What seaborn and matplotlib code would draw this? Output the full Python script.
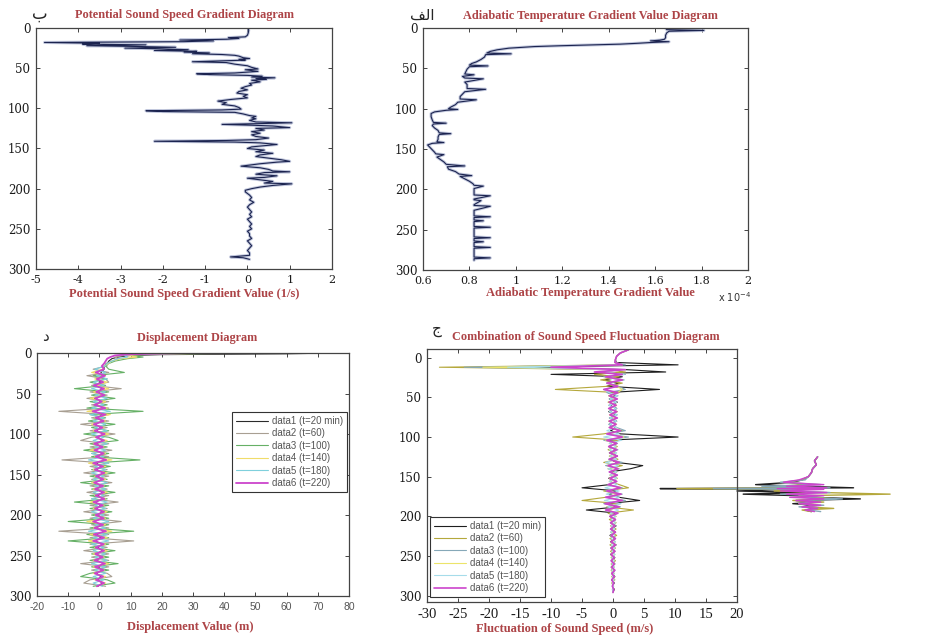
import matplotlib
matplotlib.use("Agg")
import matplotlib.pyplot as plt
import seaborn as sns

# ---------------- data ----------------
depth_ticks = [0, 50, 100, 150, 200, 250, 300]

# panel b: potential sound speed gradient (1/s)
grad_depth = [0, 3, 6, 9, 11, 12, 13, 14, 15, 16, 17, 18, 19, 20, 21, 22, 23, 24, 25, 26,
              27, 28, 29, 30, 31, 32, 33, 34, 35, 37, 38, 39, 40, 42, 43, 45, 47, 49, 51, 52,
              54, 56, 57, 58, 59, 60, 61, 62, 63, 64, 65, 67, 69, 71, 73, 75, 77, 79, 81, 83,
              85, 87, 89, 91, 93, 95, 97, 99, 101, 102, 103, 104, 105, 107, 109, 110, 112, 113, 115, 117,
              118, 119, 120, 121, 122, 124, 125, 127, 129, 131, 133, 135, 137, 139, 140, 141, 142, 143, 145, 146,
              148, 150, 152, 154, 156, 158, 160, 162, 164, 166, 167, 169, 171, 172, 174, 176, 178, 179, 180, 182,
              184, 186, 187, 189, 191, 193, 194, 196, 198, 200, 202, 204, 206, 208, 211, 214, 217, 220, 223, 226,
              229, 232, 235, 238, 241, 244, 247, 250, 253, 256, 259, 262, 265, 268, 271, 274, 277, 280, 283, 285,
              286, 288]
grad_value = [0.02, 0.03, 0.02, 0.0, -0.05, -0.45, -0.2, -0.5, -1.6, -0.8, -1.5, -4.8, -3.5, -3.9, -2.4, -3.8, -2.6, -1.7, -2.9, -2.0,
              -1.4, -2.2, -1.2, -1.5, -0.9, -1.3, -0.6, -0.3, -0.2, -0.1, 0.05, -0.2, -0.05, -1.3, -0.5, -0.3, 0.0, 0.1, 0.25, -0.05,
              0.25, -0.3, -1.2, -0.9, 0.0, 0.35, 0.1, 0.65, 0.2, 0.45, 0.1, 0.3, 0.05, 0.1, -0.05, -0.15, 0.0, -0.2, -0.25, 0.0,
              -0.1, 0.0, -0.4, -0.7, -0.5, -0.6, -0.3, -0.2, -0.15, -0.6, -2.4, -2.0, -0.3, -0.1, 0.05, 0.2, 0.1, 0.2, 0.05, 0.2,
              1.05, 0.3, -0.6, 0.1, 0.6, 1.0, 0.2, 0.4, 0.1, 0.3, 0.1, 0.2, 0.5, 0.2, -0.5, -2.2, -0.3, 0.3, 0.7, 0.5,
              0.1, 0.0, 0.4, 0.2, 0.6, 0.3, 0.2, 0.5, 0.8, 1.0, 0.7, 0.3, 0.0, -0.15, 0.3, 0.5, 0.6, 1.0, 0.4, 0.2,
              0.7, 0.4, 0.0, 0.3, 0.6, 0.4, 1.05, 0.6, 0.3, 0.1, -0.05, -0.05, 0.0, 0.05, 0.1, 0.05, 0.15, 0.05, 0.0, 0.05,
              0.1, 0.05, 0.1, 0.0, 0.05, 0.1, 0.05, 0.1, 0.0, 0.05, 0.05, 0.1, 0.0, 0.05, 0.1, 0.05, 0.0, 0.05, 0.05, -0.4,
              -0.1, 0.05]
grad_ticks = [-5, -4, -3, -2, -1, 0, 1, 2]

# panel alef: adiabatic temperature gradient (x 1e-4)
adia_depth = [0, 2, 3, 4, 6, 9, 12, 14, 15, 16, 17, 18, 19, 20, 21, 22, 23, 25, 27, 29,
              31, 32, 33, 36, 39, 42, 44, 46, 47, 48, 51, 54, 57, 58, 60, 62, 63, 67, 70, 73,
              75, 76, 79, 82, 85, 88, 89, 92, 95, 98, 100, 101, 102, 104, 106, 110, 114, 117, 118, 119,
              121, 124, 127, 130, 131, 132, 135, 138, 141, 142, 143, 145, 148, 151, 154, 156, 157, 160, 163, 166,
              169, 171, 172, 175, 178, 181, 183, 184, 187, 190, 193, 195, 196, 199, 202, 206, 207, 208, 212, 213,
              214, 219, 220, 221, 226, 233, 234, 235, 238, 239, 240, 246, 247, 248, 259, 260, 261, 264, 265, 266,
              271, 272, 273, 284, 285, 286, 288]
adia_value = [1.645, 1.65, 1.81, 1.66, 1.65, 1.645, 1.645, 1.64, 1.62, 1.58, 1.66, 1.58, 1.52, 1.45, 1.32, 1.19, 1.08, 0.97, 0.92, 0.89,
              0.875, 0.98, 0.87, 0.865, 0.85, 0.83, 0.81, 0.80, 0.88, 0.80, 0.79, 0.785, 0.78, 0.82, 0.77, 0.78, 0.86, 0.78, 0.79, 0.79,
              0.79, 0.87, 0.78, 0.77, 0.76, 0.76, 0.83, 0.75, 0.74, 0.72, 0.71, 0.75, 0.70, 0.65, 0.635, 0.635, 0.64, 0.645, 0.70, 0.645,
              0.64, 0.65, 0.665, 0.67, 0.72, 0.67, 0.665, 0.665, 0.66, 0.69, 0.64, 0.62, 0.63, 0.64, 0.65, 0.655, 0.69, 0.66, 0.675, 0.69,
              0.70, 0.78, 0.705, 0.71, 0.74, 0.755, 0.81, 0.76, 0.78, 0.80, 0.815, 0.82, 0.86, 0.82, 0.82, 0.82, 0.82, 0.89, 0.82, 0.82,
              0.85, 0.82, 0.82, 0.89, 0.82, 0.82, 0.89, 0.82, 0.82, 0.86, 0.82, 0.82, 0.89, 0.82, 0.82, 0.89, 0.82, 0.82, 0.86, 0.82,
              0.82, 0.89, 0.82, 0.82, 0.89, 0.82, 0.82]
adia_ticks = [0.6, 0.8, 1.0, 1.2, 1.4, 1.6, 1.8, 2.0]
adia_ticklabels = ["0.6", "0.8", "1", "1.2", "1.4", "1.6", "1.8", "2"]

# panel dal: displacement (m), six time steps
series_labels_disp = ["data1 (t=20 min)", "data2 (t=60)", "data3 (t=100)",
                      "data4 (t=140)", "data5 (t=180)", "data6 (t=220)"]
disp_depth = [0, 1, 2, 3, 5, 7, 10, 13, 16,
              20, 24, 28, 32, 36, 40, 44, 48, 52, 56,
              60, 64, 68, 72, 76, 80, 84, 88, 92, 96,
              100, 104, 108, 112, 116, 120, 124, 128, 132, 136,
              140, 144, 148, 152, 156, 160, 164, 168, 172, 176,
              180, 184, 188, 192, 196, 200, 204, 208, 212, 216,
              220, 224, 228, 232, 236, 240, 244, 248, 252, 256,
              260, 264, 268, 272, 276, 280, 284, 288]
disp_1 = [75, 60, 20, 10, 6, 4, 3, 2.5, 1.5,
          1.5, 0.5, 1.0, -1.0, 0.5, -1.5, 1.0, -0.5, 1.0, -1.5,
          0.5, -1.0, 1.5, -2.0, 1.0, -0.5, 1.0, -1.5, 0.5, -1.0,
          1.5, -0.5, 1.0, -1.0, 0.5, -1.5, 1.0, -0.5, 2.0, -1.0,
          0.5, -1.0, 1.5, -0.5, 1.0, -1.5, 0.5, -1.0, 1.0, -0.5,
          1.5, -1.5, 0.5, -1.0, 1.0, -0.5, 1.0, -2.0, 0.5, -1.0,
          2.0, -1.0, 0.5, -1.5, 1.0, -0.5, 1.0, -1.0, 0.5, -1.0,
          1.5, -0.5, 1.0, -1.0, 0.5, -0.5, 1.0, -0.5]
disp_2 = [58, 30, 12, 8, 5, 6, 4, 2, 2.5,
          -2.0, 3.0, -4.0, 2.0, 3.0, -2.5, 7.0, -3.0, 2.5, -4.0,
          3.0, -2.5, 3.0, -13.0, 3.0, -2.5, 3.0, -6.0, 2.5, -3.0,
          5.0, -2.5, -6.0, 3.0, -3.0, 4.0, -2.5, 3.0, -12.0, 3.0,
          -3.0, 2.5, -5.0, 3.0, -2.5, 4.0, -3.0, 2.5, -4.0, 3.0,
          -2.5, 6.0, -3.0, 2.5, -5.0, 3.0, -3.0, 7.0, -2.5, 3.0,
          -13.0, 3.0, -3.0, 11.0, -3.0, 2.5, -5.0, 3.0, -2.5, 3.0,
          -6.0, 3.0, -2.5, 2.5, 4.0, -3.0, -5.0, 2.0]
disp_3 = [50, 25, 14, 10, 14, 9, 5, 3, 2,
          3.0, 8.0, -2.0, 2.5, -3.0, 2.0, -8.0, 3.0, -2.5, 5.0,
          -3.0, 2.5, -4.0, 14.0, -3.0, 2.0, -3.5, 5.0, -2.5, 3.0,
          -5.0, 3.0, 6.0, -3.0, 2.5, -5.0, 3.0, -2.5, 13.0, -3.0,
          3.5, -2.5, 5.0, -3.0, 2.5, -6.0, 3.0, -2.5, 5.0, -3.0,
          2.5, -8.0, 3.0, -3.0, 4.0, -2.5, 3.0, -10.0, 3.0, -3.0,
          11.0, -4.0, 3.0, -10.0, 3.0, -3.0, 5.0, -2.5, 3.0, -3.0,
          6.0, -2.5, 3.0, -3.0, -6.0, 2.5, 5.0, -2.0]
disp_4 = [45, 20, 12, 9, 12, 7, 4, 3, 1.5,
          1.0, -2.5, 2.0, -1.5, 2.5, -1.0, 3.0, -2.0, 1.5, -3.0,
          2.0, -1.5, 2.5, -4.0, 3.5, -1.5, 2.0, -2.5, 1.5, -2.0,
          3.0, -1.5, 2.5, -2.0, 1.5, -3.0, 2.0, -1.5, 4.0, -3.5,
          2.0, -2.0, 2.5, -1.5, 2.0, -2.5, 1.5, -2.0, 2.5, -1.5,
          2.0, -3.0, 1.5, -2.0, 2.5, -1.5, 2.0, -4.0, 2.0, -2.0,
          4.0, -3.0, 2.5, -3.5, 2.0, -1.5, 2.5, -2.0, 1.5, -2.0,
          3.0, -2.0, 1.5, -2.0, 2.0, -1.5, 2.0, -1.0]
disp_5 = [40, 18, 10, 8, 9, 6, 4, 2.5, 1.8,
          -1.5, 2.0, -1.0, 2.5, -2.0, 1.5, -2.5, 2.0, -1.5, 2.5,
          -2.0, 1.5, -2.5, 3.5, -3.0, 1.5, -2.0, 2.0, -1.5, 2.5,
          -2.5, 1.5, -2.0, 2.5, -1.5, 2.0, -2.5, 1.5, -3.5, 3.0,
          -1.5, 2.0, -2.5, 1.5, -2.0, 2.5, -1.5, 2.0, -2.0, 1.5,
          -2.5, 2.5, -1.5, 2.0, -2.5, 1.5, -2.0, 3.0, -1.5, 2.0,
          -3.5, 2.5, -2.0, 3.0, -2.5, 1.5, -2.0, 2.0, -1.5, 2.5,
          -2.5, 2.0, -1.5, 2.0, -2.0, 1.5, -2.0, 1.0]
disp_6 = [30, 15, 8, 5, 3.5, 2.5, 2, 1.5, 0.8,
          1.5, -1.2, 1.8, -0.8, 1.2, -1.8, 1.5, -1.0, 1.6, -1.4,
          0.8, -1.6, 1.9, -2.2, 2.0, -1.2, 1.4, -1.8, 1.0, -1.5,
          1.7, -1.1, 1.5, -1.7, 1.1, -1.6, 1.4, -1.2, 2.2, -2.0,
          1.2, -1.5, 1.6, -1.1, 1.3, -1.7, 1.2, -1.4, 1.5, -1.2,
          1.6, -1.9, 1.1, -1.4, 1.5, -1.2, 1.4, -2.0, 1.2, -1.6,
          2.1, -1.8, 1.5, -2.0, 1.4, -1.2, 1.5, -1.3, 1.1, -1.6,
          1.8, -1.4, 1.3, -1.5, 1.2, -1.1, 1.5, -0.8]
disp_ticks = [-20, -10, 0, 10, 20, 30, 40, 50, 60, 70, 80]

# panel jim: sound speed fluctuation (m/s), six time steps
series_labels_fluc = ["data1 (t=20 min)", "data2 (t=60)", "data3 (t=100)",
                      "data4 (t=140)", "data5 (t=180)", "data6 (t=220)"]
fluc_depth = [-10, -6, -2, 2, 6, 9, 12, 15, 18, 21, 24, 28, 32, 36, 40,
              44, 48, 52, 56, 60, 64, 68, 72, 76, 80,
              84, 88, 92, 96, 100, 104, 108, 112, 116, 120,
              124, 128, 132, 136, 140, 144, 148, 152, 156, 160,
              164, 168, 172, 176, 180, 184, 188, 192, 196, 200,
              204, 208, 212, 216, 220, 224, 228, 232, 236, 240,
              244, 248, 252, 256, 260, 264, 268, 272, 276, 280,
              284, 288, 292, 296]
fluc_1 = [2.5, 1.2, 0.6, 0.4, 0.5, 10.5, -15, 2.0, 8.5, -10, 1.5, -1.5, 1.0, -1.0, 7.5,
          -0.8, 0.5, -0.6, 0.7, -0.5, 0.6, -0.7, 0.5, -0.5, 0.6,
          -0.6, 0.5, -0.4, 1.2, 10.5, -1.0, 0.6, -0.7, 0.5, -0.6,
          0.7, -0.5, 0.6, 4.8, 2.8, -0.5, 0.6, -0.7, 0.5, -0.6,
          -5.0, 0.7, -0.8, 1.0, 4.3, -1.0, 0.8, -4.3, 0.6, -0.5,
          0.4, -0.4, 0.5, -0.3, 0.4, -0.5, 0.3, -0.4, 0.5, -0.3,
          0.3, -0.4, 0.3, -0.2, 0.3, -0.3, 0.2, -0.2, 0.3, -0.2,
          0.2, -0.1, 0.2, 0.0]
fluc_2 = [2.5, 1.2, 0.6, 0.4, 0.3, 1.0, -28, -1.0, 2.0, -3.0, 1.0, -2.0, 1.5, -0.8, -9.3,
          1.0, -0.7, 0.6, -0.8, 0.5, -0.6, 0.7, -0.5, 0.6, -0.7,
          0.5, -0.6, 1.5, -1.5, -6.5, 1.0, -0.6, 0.7, -0.8, 0.5,
          -0.6, 0.8, -1.5, 1.5, -0.8, 0.6, -0.5, 0.7, -0.6, 1.0,
          2.5, -1.5, 1.0, -1.2, -5.0, 1.2, -1.0, 3.3, -0.8, 0.5,
          -0.6, 0.5, -0.4, 0.5, -0.4, 0.6, -0.5, 0.4, -0.5, 0.4,
          -0.4, 0.3, -0.3, 0.4, -0.3, 0.2, -0.3, 0.2, -0.2, 0.3,
          -0.2, 0.1, -0.1, 0.0]
fluc_3 = [2.5, 1.2, 0.6, 0.4, 0.3, 2.0, -24, 1.5, -2.0, 2.0, -1.5, 1.8, -1.0, 0.8, 2.0,
          -1.0, 0.8, -0.6, 0.5, -0.7, 0.6, -0.5, 0.7, -0.6, 0.5,
          -0.7, 0.6, 2.0, -1.0, 2.5, -1.5, 0.7, -0.6, 0.8, -0.5,
          0.6, -0.7, 1.5, -1.2, 1.0, -0.6, 0.7, -0.5, 0.6, -0.8,
          1.5, -1.2, 1.5, -1.0, 2.0, -1.5, 1.2, -1.0, 0.7, -0.4,
          0.4, -0.3, 0.4, -0.4, 0.3, -0.4, 0.4, -0.3, 0.3, -0.4,
          0.3, -0.3, 0.2, -0.3, 0.2, -0.2, 0.3, -0.2, 0.2, -0.2,
          0.1, -0.1, 0.1, 0.0]
fluc_4 = [2.5, 1.2, 0.6, 0.4, 0.3, 1.5, -21, 1.0, -1.5, 1.5, -1.0, 1.2, -0.8, 0.6, 1.5,
          0.7, -0.6, 0.5, -0.6, 0.6, -0.5, 0.6, -0.6, 0.5, -0.6,
          0.6, -0.5, 1.2, -0.8, 1.8, -1.2, 0.5, -0.6, 0.6, -0.5,
          0.5, -0.6, 1.0, -0.9, 0.8, -0.5, 0.6, -0.6, 0.5, -0.7,
          1.2, -1.0, 1.2, -0.9, 1.5, -1.2, 1.0, -0.8, 0.6, -0.4,
          0.3, -0.4, 0.3, -0.3, 0.4, -0.3, 0.3, -0.3, 0.4, -0.3,
          0.2, -0.3, 0.2, -0.2, 0.2, -0.2, 0.2, -0.2, 0.2, -0.1,
          0.1, -0.1, 0.1, 0.0]
fluc_5 = [2.5, 1.2, 0.6, 0.4, 0.3, 1.2, -17, 1.2, -1.8, 1.8, -1.2, 1.0, -0.6, 0.7, -1.5,
          -0.6, 0.7, -0.5, 0.6, -0.6, 0.5, -0.6, 0.6, -0.5, 0.6,
          -0.5, 0.6, -1.0, 1.0, -1.5, 1.4, -0.6, 0.5, -0.6, 0.6,
          -0.5, 0.6, -1.2, 0.9, -0.8, 0.6, -0.5, 0.6, -0.6, 0.7,
          -1.3, 1.0, -1.1, 1.0, -1.4, 1.3, -0.9, 0.9, -0.5, 0.4,
          -0.3, 0.4, -0.3, 0.3, -0.4, 0.3, -0.3, 0.4, -0.3, 0.3,
          -0.2, 0.3, -0.2, 0.2, -0.2, 0.2, -0.2, 0.2, -0.1, 0.2,
          -0.1, 0.1, -0.1, 0.0]
fluc_6 = [2.5, 1.2, 0.6, 0.4, 0.3, 1.5, -10, 2.0, -3.0, 1.5, -1.2, 1.5, -1.0, 0.8, -1.5,
          0.8, -0.6, 0.7, -0.6, 0.5, -0.7, 0.6, -0.5, 0.7, -0.6,
          0.5, -0.6, 1.2, -1.0, 1.5, -1.0, 0.6, -0.7, 0.6, -0.5,
          0.7, -0.6, 1.0, -0.8, 0.8, -0.6, 0.7, -0.5, 0.6, -0.8,
          1.2, -1.0, 1.3, -1.2, 1.5, -1.3, 1.0, -1.2, 0.8, -0.5,
          0.4, -0.4, 0.3, -0.4, 0.4, -0.3, 0.4, -0.3, 0.4, -0.3,
          0.3, -0.3, 0.2, -0.3, 0.2, -0.2, 0.3, -0.2, 0.2, -0.2,
          0.1, -0.1, 0.1, 0.0]
fluc_ticks = [-30, -25, -20, -15, -10, -5, 0, 5, 10, 15, 20]

# the misplaced copy of part of the fluctuation profile that spills out to the right
ghost_depth = [125, 130, 135, 140, 145, 150, 154, 157, 160, 162, 164, 165, 166, 168,
               170, 172, 174, 176, 178, 180, 182, 184, 186, 188, 190, 192, 194]
ghost_1 = [33.0, 32.5, 32.8, 32.2, 32.0, 31.5, 30.5, 29.0, 23.0, 30.0, 38.8, 7.6, 28.0, 20.0,
           31.0, 21.0, 30.0, 32.0, 39.9, 29.5, 33.0, 29.0, 32.5, 30.5, 33.0, 31.0, 32.0]
ghost_2 = [33.0, 32.5, 32.8, 32.2, 32.0, 31.5, 30.5, 28.0, 31.0, 27.0, 33.0, 10.3, 30.0, 26.0,
           34.0, 44.7, 30.0, 33.0, 36.0, 29.0, 34.0, 30.0, 33.0, 31.0, 35.6, 30.5, 32.0]
ghost_3 = [33.0, 32.5, 32.8, 32.2, 32.0, 31.5, 31.0, 27.0, 33.5, 24.0, 35.0, 16.2, 31.0, 29.0,
           35.0, 27.0, 33.0, 30.0, 37.0, 31.0, 32.0, 30.0, 34.0, 30.0, 33.0, 31.5, 33.5]
ghost_6 = [33.0, 32.5, 32.8, 32.2, 32.0, 31.5, 30.0, 27.5, 34.0, 28.0, 34.5, 26.5, 34.0, 27.0,
           34.5, 28.0, 34.0, 28.5, 34.0, 29.5, 33.5, 30.0, 33.5, 30.5, 33.0, 31.0, 32.5]

# ---------------- style ----------------
sns.set_style("ticks")
plt.rcParams['font.family'] = ['Liberation Serif', 'DejaVu Serif']
plt.rcParams['axes.unicode_minus'] = False

title_red = '#ad4447'
profile_col = '#1c2450'
disp_colors = ['#2b2b2b', '#a89f92', '#66b066', '#f0dc6a', '#7fd0dc', '#cc44cc']
fluc_colors = ['#1e1e1e', '#b5a83c', '#86a8b8', '#ece46a', '#a6dcea', '#cc44cc']

fig = plt.figure(figsize=(9.41, 6.38), dpi=100)
ax1 = fig.add_axes([0.0383, 0.5784, 0.3145, 0.3777])
ax2 = fig.add_axes([0.4495, 0.5768, 0.3454, 0.3793])
ax3 = fig.add_axes([0.0393, 0.0658, 0.3316, 0.3809])
ax4 = fig.add_axes([0.4538, 0.0564, 0.3294, 0.3966])


def dress(ax, xticks, xlabels, xlim, ylim, title, tpos, xlabel, lpos, xfont=None):
    ax.set_xlim(*xlim)
    ax.set_ylim(*ylim)
    ax.set_xticks(xticks)
    if xfont is None:
        xfont = {'family': 'DejaVu Serif', 'size': 8, 'color': '#1a1a1a'}
    ax.set_xticklabels(xlabels, **xfont)
    ax.set_yticks(depth_ticks)
    ax.set_yticklabels([str(v) for v in depth_ticks], fontsize=8.5, color='#1a1a1a',
                       family='DejaVu Serif')
    ax.tick_params(direction='in', top=True, right=True, length=3, width=0.7,
                   color='#444')
    ax.tick_params(axis='x', pad=4)
    ax.tick_params(axis='y', pad=4)
    for s in ax.spines.values():
        s.set_color('#444')
        s.set_linewidth(0.9)
    ax.text(tpos[0], tpos[1], title, transform=ax.transAxes, ha='center', va='center',
            color=title_red, fontsize=8.8, fontweight='bold')
    ax.set_xlabel(xlabel, color=title_red, fontsize=9, fontweight='bold')
    ax.xaxis.set_label_coords(*lpos)
    ax.xaxis.label.set_va('center')
    ax.set_ylabel('')


# panel b
sns.lineplot(x=grad_value, y=grad_depth, sort=False, estimator=None, ax=ax1,
             color='#a9b1cf', lw=2.2, alpha=0.7, legend=False)
sns.lineplot(x=grad_value, y=grad_depth, sort=False, estimator=None, ax=ax1,
             color=profile_col, lw=0.8, legend=False)
dress(ax1, grad_ticks, [str(v) for v in grad_ticks], (-5, 2), (300, 0),
      'Potential Sound Speed Gradient Diagram', (0.5, 1.054),
      'Potential Sound Speed Gradient Value (1/s)', (0.5, -0.105))

# panel alef
sns.lineplot(x=adia_value, y=adia_depth, sort=False, estimator=None, ax=ax2,
             color='#a9b1cf', lw=2.2, alpha=0.7, legend=False)
sns.lineplot(x=adia_value, y=adia_depth, sort=False, estimator=None, ax=ax2,
             color=profile_col, lw=0.8, legend=False)
dress(ax2, adia_ticks, adia_ticklabels, (0.6, 2.0), (300, 0),
      'Adiabatic Temperature Gradient Value Diagram', (0.514, 1.05),
      'Adiabatic Temperature Gradient Value', (0.514, -0.096))
ax2.text(0.96, -0.11, r'x 10$^{-4}$', transform=ax2.transAxes, ha='center', va='center',
         fontsize=7, color='#333', family='DejaVu Sans')

# panel dal
for vals, col, lab in zip([disp_1, disp_2, disp_3, disp_4, disp_5, disp_6],
                          disp_colors, series_labels_disp):
    sns.lineplot(x=vals, y=disp_depth, sort=False, estimator=None, ax=ax3,
                 color=col, lw=1.3 if lab.startswith('data6') else 0.8, label=lab)
dress(ax3, disp_ticks, [str(v) for v in disp_ticks], (-20, 80), (300, 0),
      'Displacement Diagram', (0.513, 1.062),
      'Displacement Value (m)', (0.49, -0.128),
      xfont={'family': 'Liberation Sans', 'size': 7.5, 'color': '#555'})
leg = ax3.legend(loc='upper left', bbox_to_anchor=(0.625, 0.757), borderaxespad=0,
                 prop={'family': 'Liberation Sans', 'size': 7}, labelcolor='#555',
                 fancybox=False, framealpha=1, edgecolor='#333', handlelength=3.3,
                 labelspacing=0.25, borderpad=0.4, handletextpad=0.4)
leg.get_frame().set_linewidth(0.8)

# panel jim
for vals, col, lab in zip([fluc_1, fluc_2, fluc_3, fluc_4, fluc_5, fluc_6],
                          fluc_colors, series_labels_fluc):
    sns.lineplot(x=vals, y=fluc_depth, sort=False, estimator=None, ax=ax4,
                 color=col, lw=1.2 if lab.startswith('data6') else 0.8, label=lab)
dress(ax4, fluc_ticks, [str(v) for v in fluc_ticks], (-30, 20), (308, -11),
      'Combination of Sound Speed Fluctuation Diagram', (0.513, 1.047),
      'Fluctuation of Sound Speed (m/s)', (0.445, -0.105),
      xfont={'family': 'Liberation Serif', 'size': 10.5, 'color': '#1a1a1a'})
leg = ax4.legend(loc='lower left', bbox_to_anchor=(0.01, 0.02), borderaxespad=0,
                 prop={'family': 'Liberation Sans', 'size': 7}, labelcolor='#555',
                 fancybox=False, framealpha=1, edgecolor='#333', handlelength=3.3,
                 labelspacing=0.25, borderpad=0.4, handletextpad=0.4)
leg.get_frame().set_linewidth(0.8)
for vals, col in zip([ghost_1, ghost_2, ghost_3, ghost_6],
                     [fluc_colors[0], fluc_colors[1], fluc_colors[2], fluc_colors[5]]):
    sns.lineplot(x=vals, y=ghost_depth, sort=False, estimator=None, ax=ax4,
                 color=col, lw=1.0, clip_on=False, legend=False)
ax4.set_xlim(-30, 20)
ax4.set_ylim(308, -11)

# panel letters (Arabic, shown in visual order)
fig.text(0.0425, 0.978, '\u0628', fontsize=12, family='DejaVu Sans', ha='center', va='center')
fig.text(0.4485, 0.9765, '\ufed2\ufedf\ufe8d', fontsize=11, family='DejaVu Sans',
         ha='center', va='center')
fig.text(0.0478, 0.4718, '\u062f', fontsize=11, family='DejaVu Sans', ha='center', va='center')
fig.text(0.4644, 0.4828, '\u062c', fontsize=11, family='DejaVu Sans', ha='center', va='center')

fig.savefig('out.png', dpi=100)
